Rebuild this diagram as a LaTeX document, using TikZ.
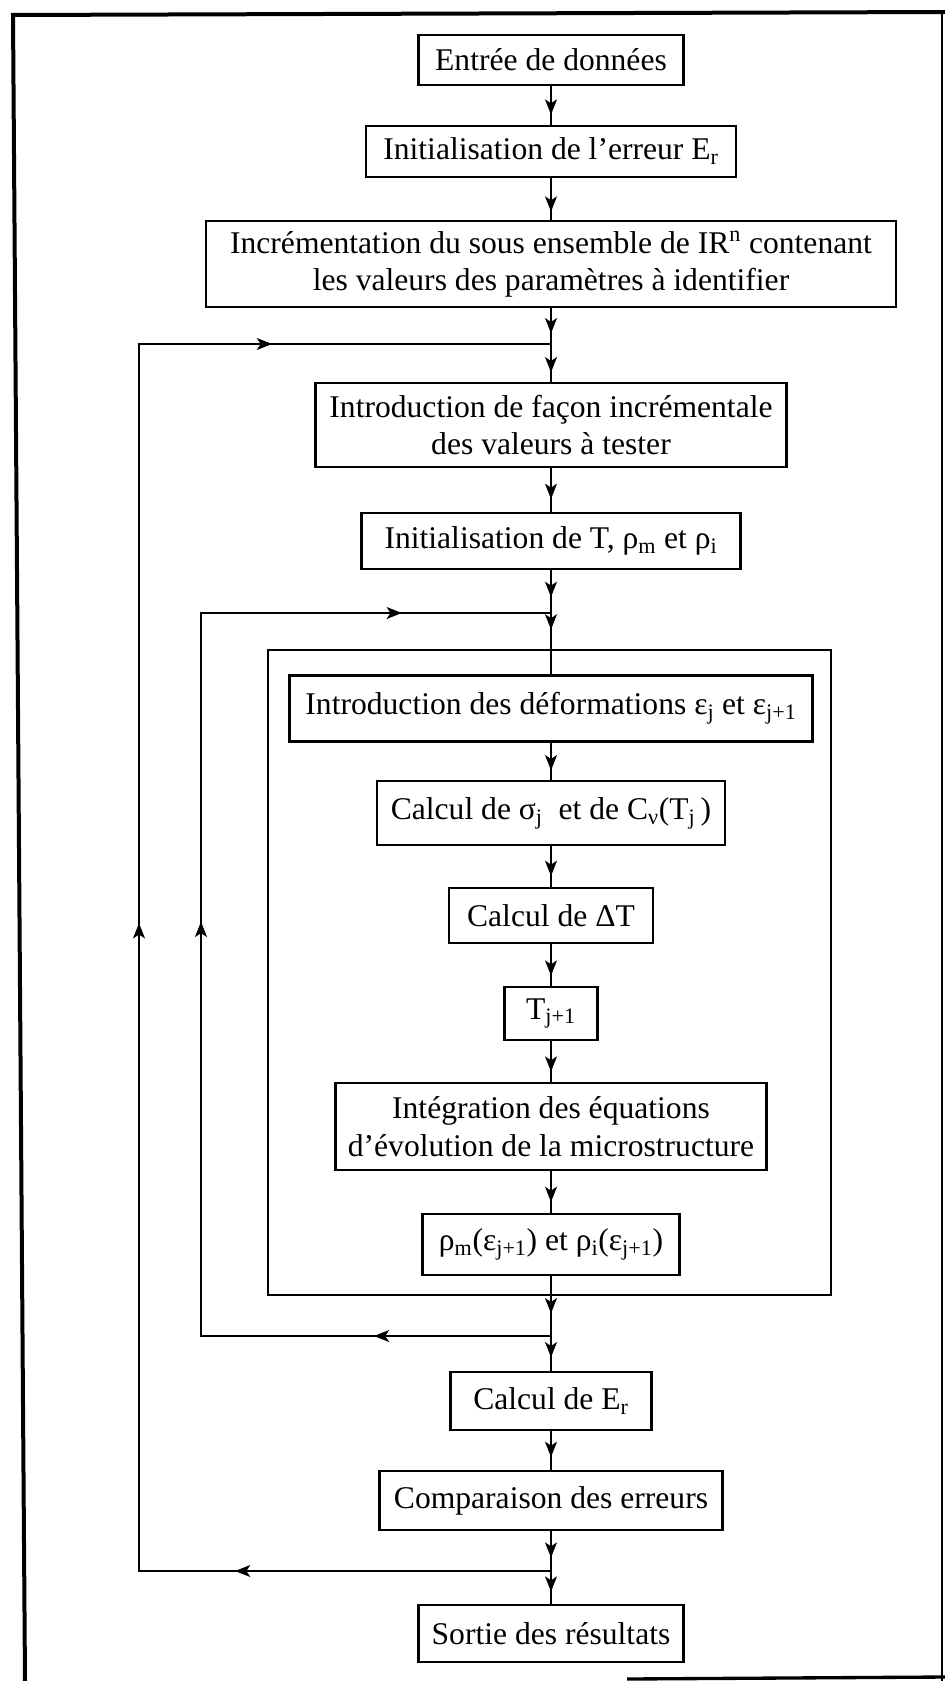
\documentclass[tikz,border=0pt]{standalone}
\usepackage{fontspec}
\setmainfont{Liberation Serif}
\usetikzlibrary{arrows.meta,decorations.markings}
\newcommand\mysub[1]{\textsubscript{#1}}
\newcommand\mysup[1]{\textsuperscript{#1}}
\begin{document}
\begin{tikzpicture}[x=0.75pt,y=-0.75pt,
  box/.style={draw, line width=2pt, inner sep=0pt, align=center, font=\fontsize{23.7}{28}\selectfont},
  wh/.style 2 args={minimum width=#1*0.75pt, minimum height=#2*0.75pt},
  conn/.style={line width=1pt, line cap=rect},
  arr/.style={postaction={decorate, decoration={markings, mark=at position #1 with {\arrow{Stealth[length=11.5pt,width=9pt,inset=3pt]}}}}},
  arr/.default=-8pt,
  frame/.style={line width=3pt}]
\useasboundingbox (0,0) rectangle (945,1681);
% frame
\draw[frame] (25,1681) -- (13,15) -- (945,12);
\draw[line width=2pt] (942,12) -- (942,1681);
\draw[line width=2.5pt] (627,1679) -- (945,1677);
% inner loop box
\node[draw, line width=1.6pt, inner sep=0pt, wh={563}{645}] (boucle) at (549.5,972.5) {};
% nodes
\node[box, wh={265}{50}] (entree) at (551,60) {Entrée de données};
\node[box, wh={370}{51}] (initE) at (551,151.5) {Initialisation de l'erreur E\mysub{r}};
\node[box, wh={690}{86}] (incr) at (551,264) {Incrémentation du sous ensemble de IR\mysup{n} contenant\\les valeurs des paramètres à identifier};
\node[box, wh={471}{84}] (intro) at (551,425) {Introduction de façon incrémentale\\des valeurs à tester};
\node[box, wh={379}{56}] (initT) at (551,541) {Initialisation de T, ρ\mysub{m} et ρ\mysub{i}};
\node[box, wh={523}{66}] (introdef) at (551,708.5) {Introduction des déformations ε\mysub{j} et ε\mysub{j+1}};
\node[box, wh={348}{64}] (sigma) at (551,813) {Calcul de σ\mysub{j}\ \ et de C\mysub{ν}(T\mysub{j}\,)};
\node[box, wh={204}{55}] (dT) at (551,915.5) {Calcul de ΔT};
\node[box, wh={93}{53}] (Tj) at (551,1013.5) {T\mysub{j+1}};
\node[box, wh={431}{87}] (integ) at (551,1126.5) {Intégration des équations\\d'évolution de la microstructure};
\node[box, wh={257}{61}] (rho) at (551,1244.5) {ρ\mysub{m}(ε\mysub{j+1}) et ρ\mysub{i}(ε\mysub{j+1})};
\node[box, wh={201}{58}] (calcE) at (551,1401) {Calcul de E\mysub{r}};
\node[box, wh={343}{59}] (comp) at (551,1500.5) {Comparaison des erreurs};
\node[box, wh={265}{57}] (sortie) at (551,1633.5) {Sortie des résultats};
% junctions and corners
\coordinate (jo1) at (551,344);
\coordinate (ji1) at (551,613);
\coordinate (ji2) at (551,1336);
\coordinate (jo2) at (551,1571);
\coordinate (co1) at (139,344);
\coordinate (co2) at (139,1571);
\coordinate (ci1) at (201,613);
\coordinate (ci2) at (201,1336);
% main column
\draw[conn,arr=-7.5pt] (entree.south) -- (initE.north);
\draw[conn,arr=-6pt] (initE.south) -- (incr.north);
\draw[conn,arr=-8pt] (incr.south) -- (jo1);
\draw[conn,arr=-7pt] (jo1) -- (intro.north);
\draw[conn,arr=-9.5pt] (intro.south) -- (initT.north);
\draw[conn,arr=-12pt] (initT.south) -- (ji1);
\draw[conn,arr=0.27] (ji1) -- (introdef.north);
\draw[conn,arr=-7pt] (introdef.south) -- (sigma.north);
\draw[conn,arr=-8pt] (sigma.south) -- (dT.north);
\draw[conn,arr=-7.5pt] (dT.south) -- (Tj.north);
\draw[conn,arr=-7.5pt] (Tj.south) -- (integ.north);
\draw[conn,arr=-8pt] (integ.south) -- (rho.north);
\draw[conn,arr=0.62] (rho.south) -- (ji2);
\draw[conn,arr=-10pt] (ji2) -- (calcE.north);
\draw[conn,arr=-9.5pt] (calcE.south) -- (comp.north);
\draw[conn,arr=-10pt] (comp.south) -- (jo2);
\draw[conn,arr=-9pt] (jo2) -- (sortie.north);
% outer loop
\draw[conn,arr=0.767] (jo2) -- (co2);
\draw[conn,arr=0.528] (co2) -- (co1);
\draw[conn,arr=0.323] (co1) -- (jo1);
% inner loop
\draw[conn,arr=0.506] (ji2) -- (ci2);
\draw[conn,arr=0.573] (ci2) -- (ci1);
\draw[conn,arr=0.574] (ci1) -- (ji1);
\end{tikzpicture}
\end{document}
